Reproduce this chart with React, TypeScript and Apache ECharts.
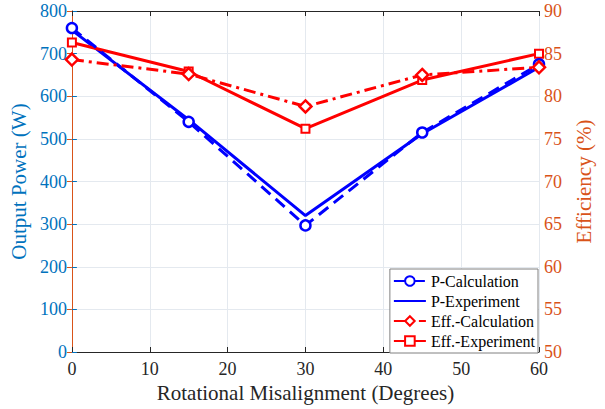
import React, { useEffect, useRef } from "react";
import * as echarts from "echarts";

const misalignment = [0, 15, 30, 45, 60];
const pCalculation = [760, 540, 297, 515, 675];
const pExperiment = [755, 545, 320, 512, 668];
const effCalculation = [84.3, 82.6, 78.8, 82.5, 83.4];
const effExperiment = [86.3, 82.9, 76.2, 81.9, 85.0];

const seriesNames = ["P-Calculation", "P-Experiment", "Eff.-Calculation", "Eff.-Experiment"];
const xTitle = "Rotational Misalignment (Degrees)";
const yLeftTitle = "Output Power (W)";
const yRightTitle = "Efficiency (%)";

const FONT = "Liberation Serif";
const AX = "#262626";
const LEFT = "#0072BD";
const RIGHT = "#D95319";
const GRID = "#e4e9ef";

const pair = (xs: number[], ys: number[]) => xs.map((x, i) => [x, ys[i]]);

export default function App() {
  const ref = useRef<HTMLDivElement>(null);
  useEffect(() => {
    if (!ref.current) return;
    const chart = echarts.init(ref.current, undefined, { renderer: "svg" });
    chart.setOption({
      animation: false,
      backgroundColor: "#ffffff",
      textStyle: { fontFamily: FONT },
      grid: { left: 71, right: 66, top: 11, bottom: 57, containLabel: false },
      legend: {
        orient: "vertical",
        right: 67,
        bottom: 56,
        backgroundColor: "#ffffff",
        borderColor: "#808080",
        borderWidth: 1,
        padding: [4, 3, 4, 3],
        itemWidth: 32,
        itemHeight: 12,
        itemGap: 4,
        textStyle: { fontFamily: FONT, fontSize: 16, color: "#000" },
        data: [
          { name: seriesNames[0] },
          { name: seriesNames[1], itemStyle: { color: "transparent", borderWidth: 0 } },
          { name: seriesNames[2] },
          { name: seriesNames[3] },
        ],
      },
      xAxis: [
        {
          type: "value",
          min: 0,
          max: 60,
          interval: 10,
          name: xTitle,
          nameLocation: "middle",
          nameGap: 25,
          nameTextStyle: { fontFamily: FONT, fontSize: 21, color: AX },
          axisLine: { show: true, lineStyle: { color: AX, width: 1 } },
          axisTick: { show: true, inside: true, length: 5, lineStyle: { color: AX } },
          axisLabel: { fontFamily: FONT, fontSize: 18, color: AX, margin: 8 },
          splitLine: { show: true, lineStyle: { color: GRID, width: 1 } },
        },
        {
          type: "value",
          position: "top",
          min: 0,
          max: 60,
          interval: 10,
          axisLine: { show: true, lineStyle: { color: AX, width: 1 } },
          axisTick: { show: true, inside: true, length: 5, lineStyle: { color: AX } },
          axisLabel: { show: false },
          splitLine: { show: false },
        },
      ],
      yAxis: [
        {
          type: "value",
          min: 0,
          max: 800,
          interval: 100,
          position: "left",
          name: yLeftTitle,
          nameLocation: "middle",
          nameRotate: 90,
          nameGap: 36,
          nameTextStyle: { fontFamily: FONT, fontSize: 21, color: LEFT },
          axisLine: { show: true, lineStyle: { color: LEFT, width: 1 } },
          axisTick: { show: true, inside: true, length: 5, lineStyle: { color: LEFT } },
          axisLabel: { fontFamily: FONT, fontSize: 18, color: LEFT, margin: 5 },
          splitLine: { show: true, lineStyle: { color: GRID, width: 1 } },
        },
        {
          type: "value",
          min: 50,
          max: 90,
          interval: 5,
          position: "right",
          name: yRightTitle,
          nameLocation: "middle",
          nameRotate: 90,
          nameGap: 34,
          nameTextStyle: { fontFamily: FONT, fontSize: 21, color: RIGHT },
          axisLine: { show: true, lineStyle: { color: RIGHT, width: 1 } },
          axisTick: { show: true, inside: true, length: 5, lineStyle: { color: RIGHT } },
          axisLabel: { fontFamily: FONT, fontSize: 18, color: RIGHT, margin: 5 },
          splitLine: { show: false },
        },
      ],
      series: [
        {
          name: seriesNames[0],
          type: "line",
          yAxisIndex: 0,
          data: pair(misalignment, pCalculation),
          symbol: "circle",
          symbolSize: 10,
          itemStyle: { color: "#ffffff", borderColor: "#0000ff", borderWidth: 2.5 },
          lineStyle: { color: "#0000ff", width: 3, type: [12, 7] },
          z: 3,
        },
        {
          name: seriesNames[1],
          type: "line",
          yAxisIndex: 0,
          data: pair(misalignment, pExperiment),
          symbol: "none",
          itemStyle: { color: "#0000ff" },
          lineStyle: { color: "#0000ff", width: 3 },
          z: 2,
        },
        {
          name: seriesNames[2],
          type: "line",
          yAxisIndex: 1,
          data: pair(misalignment, effCalculation),
          symbol: "diamond",
          symbolSize: 12,
          itemStyle: { color: "#ffffff", borderColor: "#ff0000", borderWidth: 2.5 },
          lineStyle: { color: "#ff0000", width: 3, type: [12, 5, 3, 5] },
          z: 3,
        },
        {
          name: seriesNames[3],
          type: "line",
          yAxisIndex: 1,
          data: pair(misalignment, effExperiment),
          symbol: "rect",
          symbolSize: 8,
          itemStyle: { color: "#ffffff", borderColor: "#ff0000", borderWidth: 2 },
          lineStyle: { color: "#ff0000", width: 3 },
          z: 2,
        },
      ],
    });
    return () => chart.dispose();
  }, []);
  return (
    <div
      ref={ref}
      style={{ position: "absolute", left: 0, top: 0, width: 605, height: 409, background: "#fff" }}
    />
  );
}
